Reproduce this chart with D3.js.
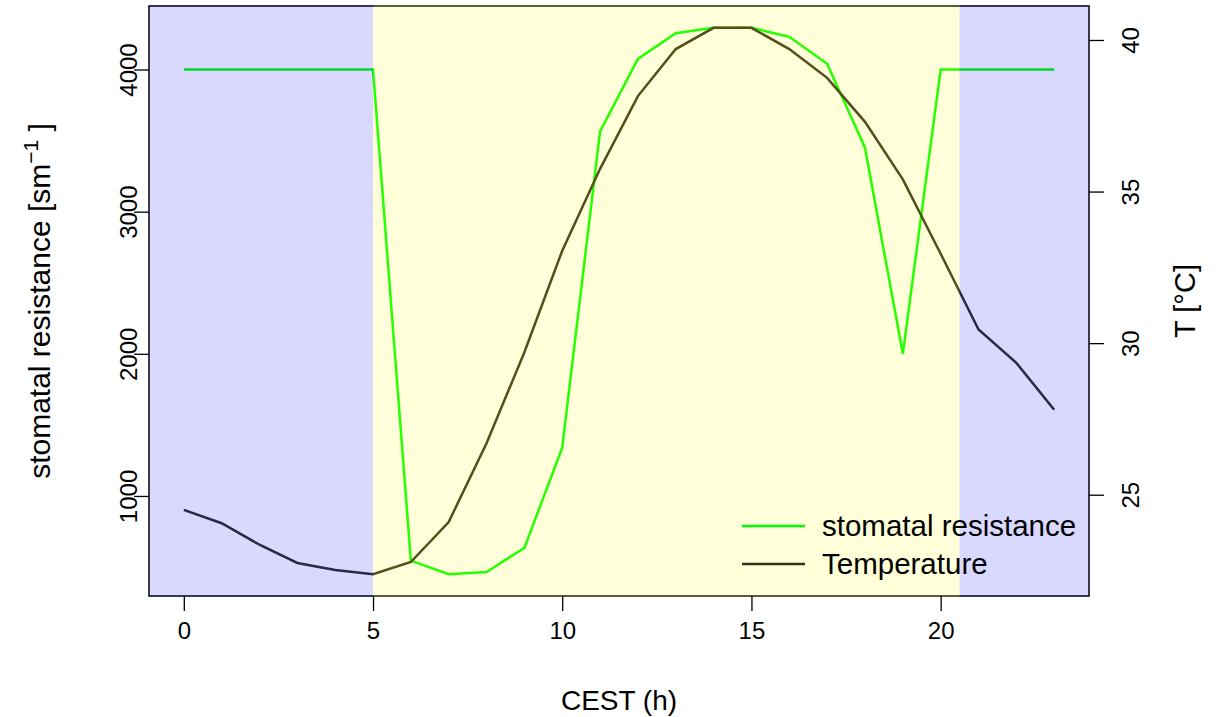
<!DOCTYPE html>
<html>
<head>
<meta charset="utf-8">
<script src="https://cdn.jsdelivr.net/npm/d3@7"></script>
<style>
  body { margin: 0; background: #fff; }
  svg text { font-family: "Liberation Sans", Arial, sans-serif; fill: #000; }
</style>
</head>
<body>
<div id="container"></div>
<script>
// Chart dimensions and margins
const width = 1221;
const height = 717;
const marginTop = 6;
const marginRight = 132;
const marginBottom = 121;
const marginLeft = 149;

// Data: hour of day (CEST)
const hours = [0, 1, 2, 3, 4, 5, 6, 7, 8, 9, 10, 11, 12, 13, 14, 15, 16, 17, 18, 19, 20, 21, 22, 23];
// stomatal resistance [s m-1]
const resistance = [4000, 4000, 4000, 4000, 4000, 4000, 545, 450, 465, 635, 1340, 3565,
                    4075, 4255, 4293, 4293, 4230, 4040, 3450, 2000, 4000, 4000, 4000, 4000];
// air temperature [°C]
const temperature = [24.5, 24.06, 23.35, 22.75, 22.52, 22.38, 22.78, 24.1, 26.7, 29.7, 33.05, 35.75,
                     38.15, 39.7, 40.4, 40.4, 39.7, 38.75, 37.3, 35.4, 32.95, 30.45, 29.35, 27.8];
// night / day periods
const nightEnd = 5;
const nightStart = 20.5;

const xTicks = [0, 5, 10, 15, 20];
const leftTicks = [1000, 2000, 3000, 4000];
const rightTicks = [25, 30, 35, 40];

// R style 4% extension of the data range
function pad(ext) {
  const r = ext[1] - ext[0];
  return [ext[0] - 0.04 * r, ext[1] + 0.04 * r];
}

const x = d3.scaleLinear()
    .domain(pad(d3.extent(hours)))
    .range([marginLeft, width - marginRight]);

const y = d3.scaleLinear()
    .domain(pad(d3.extent(resistance)))
    .range([height - marginBottom, marginTop]);

const y2 = d3.scaleLinear()
    .domain(pad(d3.extent(temperature)))
    .range([height - marginBottom, marginTop]);

const svg = d3.select("#container")
    .append("svg")
    .attr("width", width)
    .attr("height", height);

const x0 = x.range()[0], x1 = x.range()[1];
const yTop = marginTop, yBot = height - marginBottom;

// plot box
svg.append("rect")
    .attr("x", x0).attr("y", yTop)
    .attr("width", x1 - x0).attr("height", yBot - yTop)
    .attr("fill", "none")
    .attr("stroke", "#000")
    .attr("stroke-width", 1.5);

// lines
const lineR = d3.line().x((d, i) => x(hours[i])).y(d => y(d));
const lineT = d3.line().x((d, i) => x(hours[i])).y(d => y2(d));

svg.append("path")
    .attr("d", lineR(resistance))
    .attr("fill", "none")
    .attr("stroke", "#00ff00")
    .attr("stroke-width", 2.5);

svg.append("path")
    .attr("d", lineT(temperature))
    .attr("fill", "none")
    .attr("stroke", "#363020")
    .attr("stroke-width", 2.5);

// translucent night/day shading drawn on top
const shades = [
  { from: x.domain()[0], to: nightEnd, color: "rgba(0,0,255,0.15)" },
  { from: nightEnd, to: nightStart, color: "rgba(255,255,0,0.15)" },
  { from: nightStart, to: x.domain()[1], color: "rgba(0,0,255,0.15)" }
];
svg.selectAll("rect.shade")
    .data(shades)
    .enter()
    .append("rect")
    .attr("class", "shade")
    .attr("x", d => x(d.from))
    .attr("y", yTop - 1)
    .attr("width", d => x(d.to) - x(d.from))
    .attr("height", yBot - yTop + 2)
    .attr("fill", d => d.color);

// axes
const tickLen = 15;
const fs = 24;

const gx = svg.append("g")
    .attr("transform", `translate(0,${yBot})`)
    .call(d3.axisBottom(x).tickValues(xTicks).tickSize(tickLen).tickPadding(10));
gx.select(".domain").remove();
gx.selectAll("text").attr("font-size", fs).attr("font-family", null).attr("dy", "0.71em").attr("y", 26);

const gy = svg.append("g")
    .attr("transform", `translate(${x0},0)`)
    .call(d3.axisLeft(y).tickValues(leftTicks).tickSize(tickLen).tickFormat(d3.format("d")));
gy.select(".domain").remove();
gy.selectAll("text")
    .attr("font-size", fs).attr("font-family", null)
    .attr("x", null).attr("dy", null)
    .attr("text-anchor", "middle")
    .attr("transform", "translate(-12,0) rotate(-90)")
    .attr("y", 0);

const gy2 = svg.append("g")
    .attr("transform", `translate(${x1},0)`)
    .call(d3.axisRight(y2).tickValues(rightTicks).tickSize(tickLen));
gy2.select(".domain").remove();
gy2.selectAll("text")
    .attr("font-size", fs).attr("font-family", null)
    .attr("x", null).attr("dy", null)
    .attr("text-anchor", "middle")
    .attr("transform", "translate(50,0) rotate(-90)")
    .attr("y", 0);

gx.selectAll("line").attr("stroke-width", 1.3);
gy.selectAll("line").attr("stroke-width", 1.3);
gy2.selectAll("line").attr("stroke-width", 1.3);

// axis titles
const titleSize = 29;
svg.append("text")
    .attr("x", (x0 + x1) / 2)
    .attr("y", 710)
    .attr("text-anchor", "middle")
    .attr("font-size", 28)
    .text("CEST (h)");

const lt = svg.append("text")
    .attr("transform", `translate(50,${(yTop + yBot) / 2}) rotate(-90)`)
    .attr("text-anchor", "middle")
    .attr("font-size", 30);
lt.append("tspan").text("stomatal resistance [sm");
lt.append("tspan").attr("dy", -12).attr("font-size", 21).text("\u22121");
lt.append("tspan").attr("dy", 12).text(" ]");

svg.append("text")
    .attr("transform", `translate(1195,${(yTop + yBot) / 2}) rotate(-90)`)
    .attr("text-anchor", "middle")
    .attr("font-size", titleSize)
    .text("T [°C]");

// legend
const legend = [
  { label: "stomatal resistance", color: "#00ff00" },
  { label: "Temperature", color: "#363020" }
];
const lg = svg.append("g").attr("transform", "translate(742,526)");
legend.forEach((d, i) => {
  lg.append("line")
      .attr("x1", 0).attr("x2", 63)
      .attr("y1", i * 38).attr("y2", i * 38)
      .attr("stroke", d.color)
      .attr("stroke-width", 2.5);
  lg.append("text")
      .attr("x", 80).attr("y", i * 38 + 10)
      .attr("font-size", 29.5)
      .text(d.label);
});
</script>
</body>
</html>
